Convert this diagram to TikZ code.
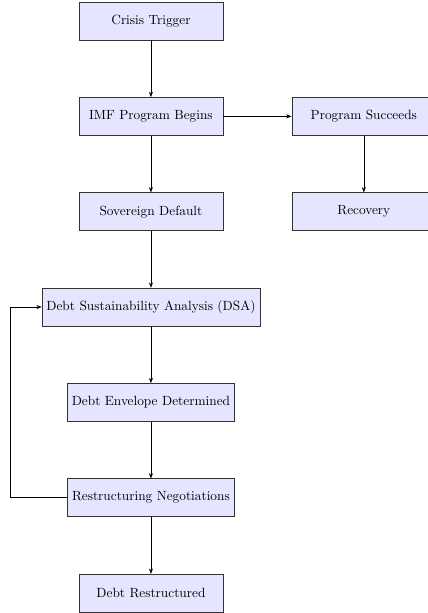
\documentclass[tikz,border=0pt]{standalone}
\usepackage{amsmath,amssymb}
\usetikzlibrary{positioning,arrows.meta}

\begin{document}
\begin{tikzpicture}[
    stage/.style={draw=black!80, fill=blue!10, minimum width=3.8cm, minimum height=1cm},
    flow/.style={-{Stealth[length=4pt,width=3pt]}, black},
    node distance=1.5cm
  ]
  % --- frame of the picture ---
  \useasboundingbox (-3.98,-15.61) rectangle (7.30,0.554);

  % --- main column ---
  \node[stage] (trigger) at (0,0) {Crisis Trigger};
  \node[stage, below=of trigger] (imf) {IMF Program Begins};
  \node[stage, below=of imf] (default) {Sovereign Default};
  \node[stage, below=of default] (dsa) {Debt Sustainability Analysis (DSA)};
  \node[stage, below=of dsa] (envelope) {Debt Envelope Determined};
  \node[stage, below=of envelope] (negotiate) {Restructuring Negotiations};
  \node[stage, below=of negotiate] (restructured) {Debt Restructured};

  % --- success branch ---
  \node[stage, right=1.8cm of imf] (success) {Program Succeeds};
  \node[stage, below=of success] (recovery) {Recovery};

  % arrows
  \draw[flow] (trigger) -- (imf);
  \draw[flow] (imf) -- (default);
  \draw[flow] (default) -- (dsa);
  \draw[flow] (dsa) -- (envelope);
  \draw[flow] (envelope) -- (negotiate);
  \draw[flow] (negotiate) -- (restructured);
  \draw[flow] (imf) -- (success);
  \draw[flow] (success) -- (recovery);

  % feedback loop back to the DSA
  \coordinate (loop) at ([xshift=-1.5cm]negotiate.west);
  \draw[flow] (negotiate.west) -- (loop) |- (dsa.west);
\end{tikzpicture}
\end{document}
